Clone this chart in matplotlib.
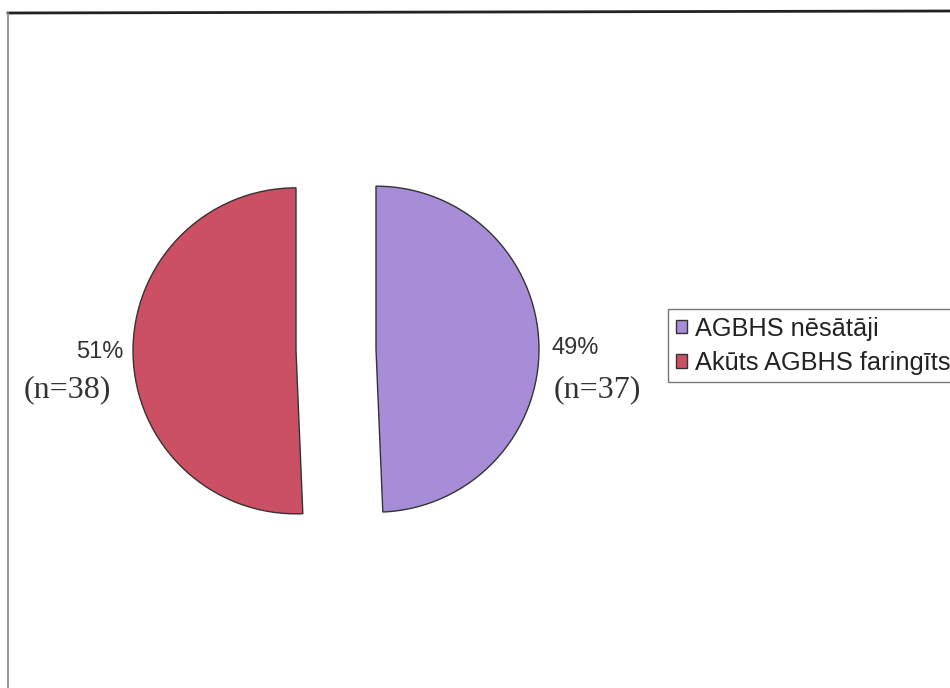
import matplotlib.pyplot as plt
from matplotlib.lines import Line2D

labels = ["AGBHS nēsātāji", "Akūts AGBHS faringīts"]
counts = [37, 38]
percents = ["49%", "51%"]
colors = ["#A78CD8", "#CC5063"]

W, H = 950, 688
fig = plt.figure(figsize=(W / 100, H / 100), dpi=100)
ax = fig.add_axes([0, 0, 1, 1])

# explode is in data units here (pixels)
wedges, _ = ax.pie(counts, colors=colors, startangle=90, counterclock=False,
                   center=(336, H - 350), radius=163, explode=(40, 40),
                   wedgeprops=dict(edgecolor="#333333", linewidth=1.0),
                   frame=True)
ax.set_xlim(0, W)
ax.set_ylim(0, H)
ax.set_aspect("equal")
ax.axis("off")

# labels
ax.text(599, H - 348, percents[0], ha="right", va="center",
        fontsize=17, family="Liberation Sans", color="#333333")
ax.text(641, H - 390, "(n=%d)" % counts[0], ha="right", va="center",
        fontsize=23, family="Liberation Serif", color="#333333")
ax.text(123, H - 352, percents[1], ha="right", va="center",
        fontsize=17, family="Liberation Sans", color="#333333")
ax.text(111, H - 390, "(n=%d)" % counts[1], ha="right", va="center",
        fontsize=23, family="Liberation Serif", color="#333333")

leg = ax.legend(wedges, labels, loc="upper left",
                bbox_to_anchor=(668 / W, 1 - 309 / H),
                bbox_transform=fig.transFigure,
                prop=dict(family="Liberation Sans", size=18.3),
                frameon=True, fancybox=False, handlelength=0.45,
                handleheight=0.45, handletextpad=0.3, borderpad=0.3,
                labelspacing=0.4, borderaxespad=0)
leg.get_frame().set_edgecolor("#555555")
leg.get_frame().set_linewidth(1.0)
for t in leg.get_texts():
    t.set_color("#222222")

# outer frame of the chart area
fig.add_artist(Line2D([8 / W, 1], [1 - 13 / H, 1 - 11 / H], color="#222222",
                      linewidth=2.0, transform=fig.transFigure))
fig.add_artist(Line2D([8 / W, 8 / W], [1 - 13 / H, 0], color="#888888",
                      linewidth=1.2, transform=fig.transFigure))

fig.savefig("out.png", dpi=100, facecolor="white")
